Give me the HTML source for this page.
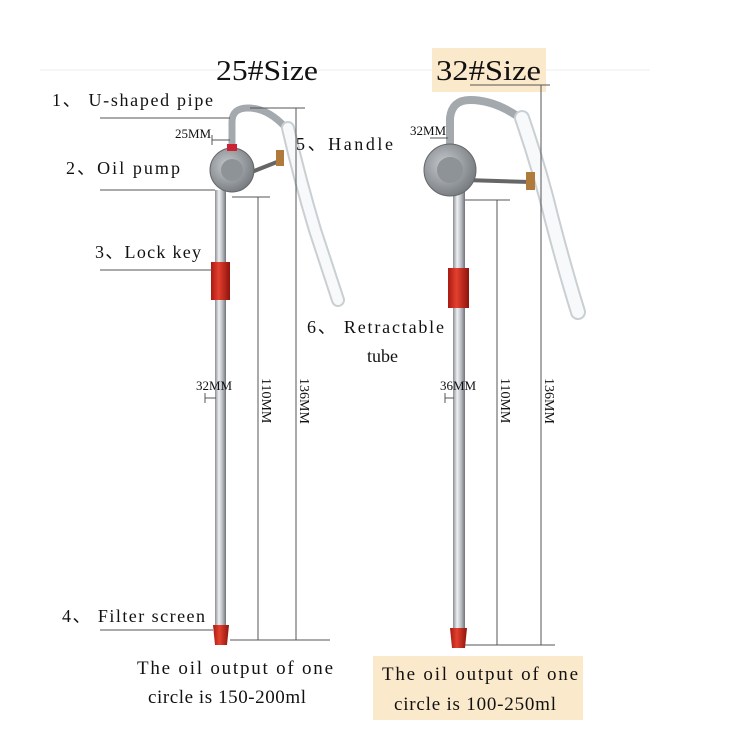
<!DOCTYPE html>
<html><head><meta charset="utf-8"><style>
body{margin:0;background:#fff;}
svg{display:block;}
text{font-family:"Liberation Serif",serif;fill:#111;}
</style></head><body>
<svg width="750" height="750" viewBox="0 0 750 750" xmlns="http://www.w3.org/2000/svg">
<defs>
<linearGradient id="pipe" x1="0" x2="1" y1="0" y2="0">
<stop offset="0" stop-color="#8a8f95"/><stop offset="0.35" stop-color="#eef0f2"/><stop offset="0.7" stop-color="#b5b9be"/><stop offset="1" stop-color="#6f7379"/>
</linearGradient>
<linearGradient id="red" x1="0" x2="1"><stop offset="0" stop-color="#a81a12"/><stop offset="0.4" stop-color="#e3402e"/><stop offset="1" stop-color="#8e130c"/></linearGradient>
<radialGradient id="hous" cx="0.4" cy="0.4" r="0.7"><stop offset="0" stop-color="#c7cbce"/><stop offset="1" stop-color="#6e7378"/></radialGradient>
</defs>
<line x1="40" y1="70" x2="650" y2="70" stroke="#eee" stroke-width="1"/>
<rect x="432" y="48" width="114" height="44" fill="#fbe9cc"/>
<text x="216" y="80" font-size="28" textLength="102" lengthAdjust="spacingAndGlyphs">25#Size</text>
<text x="436" y="80" font-size="28" textLength="105" lengthAdjust="spacingAndGlyphs">32#Size</text>

<path d="M232 150 L232 122 Q232 108 248 108 Q268 108 286 128" fill="none" stroke="#a4a9ae" stroke-width="7"/>
<path d="M288 128 Q300 180 315 230 Q328 270 338 300" fill="none" stroke="#c9cfd2" stroke-width="14" stroke-linecap="round"/>
<path d="M288 128 Q300 180 315 230 Q328 270 338 300" fill="none" stroke="#f7f9fa" stroke-width="10" stroke-linecap="round"/>
<rect x="215" y="190" width="11" height="450" fill="url(#pipe)"/>
<line x1="244" y1="175" x2="282" y2="160" stroke="#666" stroke-width="4"/>
<rect x="276" y="150" width="8" height="16" fill="#b07a3a"/>
<circle cx="232" cy="170" r="22" fill="url(#hous)" stroke="#666"/>
<circle cx="232" cy="170" r="11" fill="#8e9397"/>
<rect x="227" y="144" width="10" height="7" fill="#c23"/>
<path d="M211 262 h19 v38 h-19z" fill="url(#red)"/>
<path d="M213 625 h16 l-2 20 h-12z" fill="url(#red)"/>

<path d="M450 148 L450 118 Q452 100 470 100 Q495 100 520 118" fill="none" stroke="#a4a9ae" stroke-width="8"/>
<path d="M522 118 Q540 170 552 220 Q565 270 578 312" fill="none" stroke="#c9cfd2" stroke-width="16" stroke-linecap="round"/>
<path d="M522 118 Q540 170 552 220 Q565 270 578 312" fill="none" stroke="#f7f9fa" stroke-width="12" stroke-linecap="round"/>
<rect x="453" y="190" width="12" height="450" fill="url(#pipe)"/>
<line x1="465" y1="180" x2="530" y2="182" stroke="#666" stroke-width="4"/>
<rect x="526" y="172" width="9" height="18" fill="#b07a3a"/>
<circle cx="450" cy="170" r="26" fill="url(#hous)" stroke="#666"/>
<circle cx="450" cy="170" r="13" fill="#8e9397"/>
<path d="M448 268 h21 v40 h-21z" fill="url(#red)"/>
<path d="M450 628 h17 l-2 20 h-13z" fill="url(#red)"/>

<g stroke="#555" stroke-width="1" fill="none">
<line x1="258" y1="197" x2="258" y2="640"/><line x1="232" y1="197" x2="270" y2="197"/>
<line x1="296" y1="108" x2="296" y2="640"/><line x1="250" y1="108" x2="305" y2="108"/>
<line x1="230" y1="640" x2="330" y2="640"/>
<line x1="497" y1="200" x2="497" y2="645"/><line x1="465" y1="200" x2="510" y2="200"/>
<line x1="541" y1="85" x2="541" y2="645"/><line x1="470" y1="85" x2="550" y2="85"/>
<line x1="465" y1="645" x2="555" y2="645"/>
<line x1="212" y1="140" x2="230" y2="140"/><line x1="212" y1="135" x2="212" y2="145"/>
<line x1="205" y1="398" x2="216" y2="398"/><line x1="205" y1="393" x2="205" y2="403"/>
<line x1="445" y1="398" x2="454" y2="398"/><line x1="445" y1="393" x2="445" y2="403"/>
<line x1="430" y1="138" x2="448" y2="138"/>
<line x1="100" y1="118" x2="230" y2="118"/>
<line x1="100" y1="190" x2="215" y2="190"/>
<line x1="100" y1="270" x2="212" y2="270"/>
<line x1="100" y1="630" x2="213" y2="630"/>
</g>
<text x="175" y="138" font-size="13">25MM</text>
<text x="196" y="390" font-size="13">32MM</text>
<text x="410" y="135" font-size="13">32MM</text>
<text x="440" y="390" font-size="13">36MM</text>
<text font-size="14" transform="translate(262,378) rotate(90)">110MM</text>
<text font-size="14" transform="translate(300,378) rotate(90)">136MM</text>
<text font-size="14" transform="translate(501,378) rotate(90)">110MM</text>
<text font-size="14" transform="translate(545,378) rotate(90)">136MM</text>

<text x="52" y="106" font-size="18" textLength="161" lengthAdjust="spacing">1、 U-shaped pipe</text>
<text x="66" y="174" font-size="18" textLength="114" lengthAdjust="spacing">2、Oil pump</text>
<text x="95" y="258" font-size="18" textLength="106" lengthAdjust="spacing">3、Lock key</text>
<text x="62" y="622" font-size="18" textLength="143" lengthAdjust="spacing">4、 Filter screen</text>
<text x="296" y="150" font-size="18" textLength="97" lengthAdjust="spacing">5、Handle</text>
<text x="307" y="333" font-size="18" textLength="137" lengthAdjust="spacing">6、 Retractable</text>
<text x="367" y="362" font-size="18">tube</text>

<text x="137" y="674" font-size="19" textLength="196" lengthAdjust="spacing">The oil output of one</text>
<text x="148" y="703" font-size="19" textLength="158" lengthAdjust="spacing">circle is 150-200ml</text>
<rect x="373" y="656" width="210" height="64" fill="#fbe9cc"/>
<text x="382" y="680" font-size="19" textLength="196" lengthAdjust="spacing">The oil output of one</text>
<text x="394" y="710" font-size="19" textLength="162" lengthAdjust="spacing">circle is 100-250ml</text>
</svg>
</body></html>
